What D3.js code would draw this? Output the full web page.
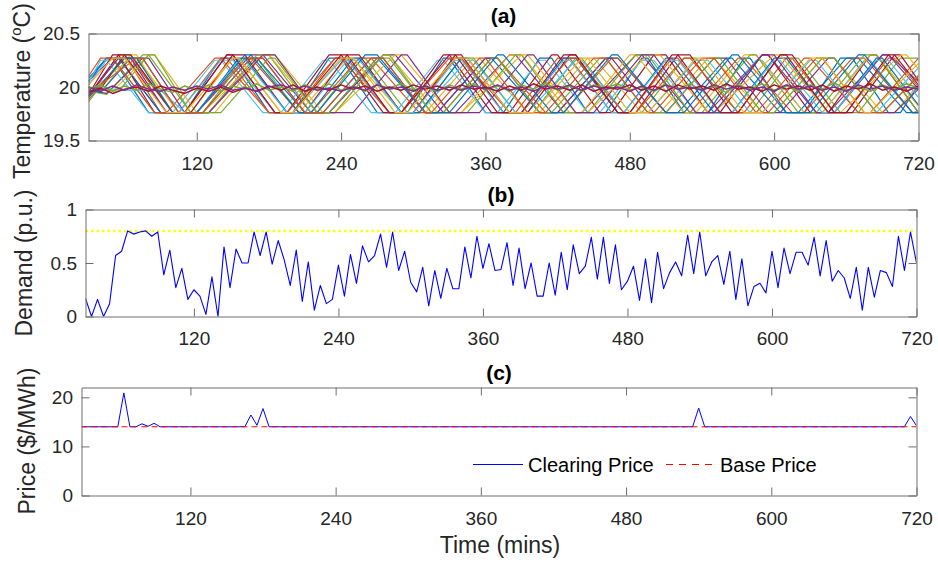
<!DOCTYPE html>
<html>
<head>
<meta charset="utf-8">
<script src="https://cdn.jsdelivr.net/npm/d3@7"></script>
<style>
  html, body { margin: 0; padding: 0; background: #fff; }
  svg { display: block; font-family: "Liberation Sans", Arial, Helvetica, sans-serif; }
</style>
</head>
<body>
<svg id="chart" width="938" height="565"></svg>
<script>
// ---------- data ----------
const timeTicks = [120, 240, 360, 480, 600, 720];
const tempTicks = [19.5, 20, 20.5];
const demandTicks = [0, 0.5, 1];
const priceTicks = [0, 10, 20];

// MATLAB default line colours
const lineColors = ["#0072BD", "#D95319", "#EDB120", "#7E2F8E", "#77AC30", "#4DBEEE", "#A2142F"];

// indoor temperature of each house: thermostat turning points [minute, degC]
const houseTemps = [
  [[30,20.05],[45,20.27],[50,20.27],[80,19.76],[110,19.76],[140,20.27],[150,20.27],[180,19.76],[200,19.76],[230,20.27],[240,20.27],[270,19.76],[295,19.76],[325,20.27],[330,20.27],[360,19.76],[375,19.76],[405,20.27],[415,20.27],[445,19.76],[460,19.76],[490,20.27],[495,20.27],[525,19.76],[545,19.76],[575,20.27],[580,20.27],[610,19.76],[625,19.76],[655,20.27],[665,20.27],[695,19.76],[705,19.76],[720,20.02]],
  [[30,19.90],[55,20.30],[60,20.30],[90,19.76],[105,19.76],[140,20.27],[145,20.27],[180,19.76],[200,19.76],[235,20.27],[245,20.27],[280,19.76],[300,19.76],[335,20.27],[340,20.27],[375,19.76],[385,19.76],[420,20.27],[430,20.27],[465,19.76],[480,19.76],[515,20.27],[520,20.27],[555,19.76],[575,19.76],[610,20.27],[615,20.27],[650,19.76],[660,19.76],[695,20.27],[700,20.27],[720,20.0]],
  [[30,20.0],[40,19.95],[65,20.30],[70,20.30],[100,19.76],[115,19.76],[150,20.27],[155,20.27],[190,19.76],[205,19.76],[245,20.27],[250,20.27],[290,19.76],[310,19.76],[350,20.27],[355,20.27],[395,19.76],[405,19.76],[445,20.27],[450,20.27],[490,19.76],[505,19.76],[545,20.27],[550,20.27],[590,19.76],[600,19.76],[640,20.27],[650,20.27],[690,19.76],[700,19.76],[720,20.02]],
  [[30,20.06],[50,20.27],[55,20.27],[90,19.76],[120,19.76],[165,20.30],[175,20.30],[215,19.76],[230,19.76],[275,20.30],[285,20.30],[325,19.76],[335,19.76],[380,20.30],[385,20.30],[425,19.76],[440,19.76],[485,20.30],[490,20.30],[530,19.76],[545,19.76],[590,20.30],[595,20.30],[635,19.76],[645,19.76],[690,20.30],[695,20.30],[720,19.98]],
  [[30,19.96],[45,19.93],[75,20.30],[80,20.30],[115,19.76],[125,19.76],[160,20.27],[170,20.27],[205,19.76],[220,19.76],[255,20.27],[260,20.27],[295,19.76],[305,19.76],[340,20.27],[350,20.27],[385,19.76],[400,19.76],[435,20.27],[440,20.27],[475,19.76],[490,19.76],[525,20.27],[535,20.27],[570,19.76],[580,19.76],[615,20.27],[620,20.27],[655,19.76],[670,19.76],[705,20.27],[720,20.27]],
  [[30,20.02],[45,20.25],[50,20.27],[85,19.76],[100,19.76],[135,20.25],[140,20.25],[175,19.76],[190,19.76],[225,20.25],[230,20.25],[265,19.76],[285,19.76],[320,20.25],[325,20.25],[360,19.76],[370,19.76],[405,20.25],[410,20.25],[445,19.76],[455,19.76],[490,20.25],[500,20.25],[535,19.76],[550,19.76],[585,20.25],[590,20.25],[625,19.76],[640,19.76],[675,20.25],[680,20.25],[715,19.76],[720,19.78]],
  [[30,19.92],[55,20.30],[60,20.30],[95,19.76],[110,19.76],[145,20.30],[150,20.30],[185,19.76],[195,19.76],[230,20.30],[240,20.30],[275,19.76],[290,19.76],[325,20.30],[330,20.30],[365,19.76],[380,19.76],[415,20.30],[420,20.30],[455,19.76],[465,19.76],[500,20.30],[510,20.30],[545,19.76],[555,19.76],[590,20.30],[595,20.30],[630,19.76],[645,19.76],[680,20.30],[685,20.30],[720,19.76]],
  [[30,20.08],[45,20.27],[55,20.27],[90,19.76],[125,19.76],[165,20.27],[170,20.27],[210,19.76],[225,19.76],[265,20.27],[270,20.27],[310,19.76],[320,19.76],[360,20.27],[365,20.27],[405,19.76],[420,19.76],[460,20.27],[470,20.27],[510,19.76],[520,19.76],[560,20.27],[565,20.27],[605,19.76],[620,19.76],[660,20.27],[670,20.27],[710,19.76],[720,19.76]],
  [[30,19.88],[60,20.27],[65,20.27],[100,19.76],[120,19.76],[160,20.27],[165,20.27],[205,19.76],[215,19.76],[255,20.27],[265,20.27],[305,19.76],[325,19.76],[365,20.27],[370,20.27],[410,19.76],[425,19.76],[465,20.27],[470,20.27],[510,19.76],[530,19.76],[570,20.27],[575,20.27],[615,19.76],[625,19.76],[665,20.27],[675,20.27],[715,19.76],[720,19.76]],
  [[30,20.0],[50,19.96],[80,20.30],[85,20.30],[120,19.76],[135,19.76],[175,20.30],[185,20.30],[225,19.76],[235,19.76],[275,20.30],[280,20.30],[320,19.76],[340,19.76],[380,20.30],[390,20.30],[430,19.76],[440,19.76],[480,20.30],[485,20.30],[525,19.76],[535,19.76],[575,20.30],[585,20.30],[625,19.76],[640,19.76],[680,20.30],[685,20.30],[720,19.82]],
  [[30,19.97],[45,19.94],[75,20.27],[80,20.27],[110,19.76],[130,19.76],[170,20.27],[175,20.27],[210,19.76],[230,19.76],[270,20.27],[275,20.27],[310,19.76],[320,19.76],[360,20.27],[370,20.27],[405,19.76],[420,19.76],[460,20.27],[465,20.27],[500,19.76],[510,19.76],[550,20.27],[560,20.27],[595,19.76],[605,19.76],[645,20.27],[650,20.27],[685,19.76],[700,19.76],[720,19.98]],
  [[30,19.86],[60,20.30],[65,20.30],[100,19.76],[130,19.76],[170,20.30],[180,20.30],[215,19.76],[235,19.76],[275,20.30],[280,20.30],[315,19.76],[345,19.76],[385,20.30],[390,20.30],[425,19.76],[445,19.76],[485,20.30],[495,20.30],[530,19.76],[540,19.76],[580,20.30],[585,20.30],[620,19.76],[635,19.76],[675,20.30],[685,20.30],[720,19.76]],
  [[30,20.04],[40,20.25],[45,20.25],[80,19.76],[105,19.76],[140,20.25],[150,20.25],[185,19.76],[200,19.76],[240,20.25],[245,20.25],[280,19.76],[305,19.76],[345,20.25],[350,20.25],[385,19.76],[395,19.76],[435,20.25],[440,20.25],[475,19.76],[495,19.76],[535,20.25],[545,20.25],[580,19.76],[590,19.76],[630,20.25],[635,20.25],[670,19.76],[685,19.76],[720,20.18]],
  [[30,19.93],[50,20.30],[55,20.30],[85,19.76],[115,19.76],[150,20.30],[160,20.30],[195,19.76],[210,19.76],[245,20.30],[255,20.30],[290,19.76],[300,19.76],[335,20.30],[340,20.30],[375,19.76],[395,19.76],[430,20.30],[435,20.30],[470,19.76],[485,19.76],[520,20.30],[530,20.30],[565,19.76],[570,19.76],[605,20.30],[615,20.30],[650,19.76],[665,19.76],[700,20.30],[705,20.30],[720,20.06]],
  [[30,19.98],[40,19.95],[65,20.27],[75,20.27],[105,19.76],[120,19.76],[155,20.27],[160,20.27],[195,19.76],[215,19.76],[250,20.27],[255,20.27],[290,19.76],[305,19.76],[340,20.27],[345,20.27],[380,19.76],[390,19.76],[425,20.27],[435,20.27],[470,19.76],[475,19.76],[510,20.27],[515,20.27],[550,19.76],[565,19.76],[600,20.27],[610,20.27],[645,19.76],[650,19.76],[685,20.27],[690,20.27],[720,19.83]],
  [[30,20.10],[40,20.27],[50,20.27],[85,19.76],[95,19.76],[135,20.27],[140,20.27],[180,19.76],[195,19.76],[235,20.27],[240,20.27],[280,19.76],[290,19.76],[330,20.27],[340,20.27],[380,19.76],[390,19.76],[430,20.27],[435,20.27],[475,19.76],[485,19.76],[525,20.27],[530,20.27],[570,19.76],[585,19.76],[625,20.27],[630,20.27],[670,19.76],[680,19.76],[720,20.27]],
  [[30,19.95],[65,20.27],[70,20.27],[105,19.76],[125,19.76],[175,20.30],[180,20.30],[220,19.76],[235,19.76],[285,20.30],[290,20.30],[330,19.76],[340,19.76],[390,20.30],[395,20.30],[435,19.76],[445,19.76],[495,20.30],[505,20.30],[545,19.76],[550,19.76],[600,20.30],[605,20.30],[645,19.76],[655,19.76],[705,20.30],[710,20.30],[720,20.17]],
  [[30,19.92],[55,20.27],[65,20.27],[95,19.76],[130,19.76],[175,20.30],[185,20.30],[220,19.76],[250,19.76],[290,20.30],[295,20.30],[330,19.76],[355,19.76],[395,20.30],[400,20.30],[435,19.76],[450,19.76],[490,20.30],[500,20.30],[535,19.76],[550,19.76],[590,20.30],[600,20.30],[635,19.76],[650,19.76],[690,20.30],[695,20.30],[720,20.05]],
  [[30,19.99],[55,19.96],[80,20.30],[85,20.30],[115,19.76],[140,19.76],[180,20.27],[185,20.27],[220,19.76],[230,19.76],[270,20.27],[280,20.27],[315,19.76],[325,19.76],[365,20.27],[370,20.27],[405,19.76],[415,19.76],[455,20.27],[460,20.27],[495,19.76],[510,19.76],[550,20.27],[555,20.27],[590,19.76],[600,19.76],[640,20.27],[650,20.27],[685,19.76],[690,19.76],[720,20.11]],
  [[30,20.0],[60,19.97],[90,19.97],[110,19.76],[120,19.76],[155,20.25],[160,20.25],[195,19.76],[210,19.76],[245,20.25],[255,20.25],[290,19.76],[300,19.76],[335,20.25],[340,20.25],[375,19.76],[390,19.76],[425,20.25],[430,20.25],[465,19.76],[475,19.76],[510,20.25],[520,20.25],[555,19.76],[565,19.76],[600,20.25],[605,20.25],[640,19.76],[650,19.76],[685,20.25],[695,20.25],[720,19.90]],
  [[30,19.96],[40,19.98],[60,20.30],[65,20.30],[100,19.76],[110,19.76],[145,20.30],[150,20.30],[185,19.76],[200,19.76],[240,20.30],[245,20.30],[280,19.76],[290,19.76],[330,20.30],[335,20.30],[370,19.76],[390,19.76],[425,20.30],[435,20.30],[470,19.76],[480,19.76],[515,20.30],[520,20.30],[555,19.76],[570,19.76],[605,20.30],[610,20.30],[645,19.76],[660,19.76],[695,20.30],[700,20.30],[720,20.02]],
  [[30,19.90],[60,20.27],[70,20.27],[100,19.76],[120,19.76],[160,20.30],[165,20.30],[205,19.76],[220,19.76],[260,20.30],[270,20.30],[310,19.76],[330,19.76],[370,20.30],[375,20.30],[415,19.76],[425,19.76],[465,20.30],[470,20.30],[510,19.76],[525,19.76],[565,20.30],[570,20.30],[610,19.76],[630,19.76],[670,20.30],[675,20.30],[715,19.76],[720,19.76]],
  [[30,19.94],[70,20.27],[75,20.27],[105,19.76],[125,19.76],[165,20.27],[175,20.27],[210,19.76],[225,19.76],[265,20.27],[275,20.27],[310,19.76],[315,19.76],[355,20.27],[360,20.27],[395,19.76],[410,19.76],[450,20.27],[460,20.27],[495,19.76],[500,19.76],[540,20.27],[550,20.27],[585,19.76],[595,19.76],[635,20.27],[640,20.27],[675,19.76],[690,19.76],[720,20.10]],
  [[30,20.02],[50,20.27],[60,20.27],[95,19.76],[110,19.76],[150,20.27],[155,20.27],[190,19.76],[200,19.76],[240,20.27],[250,20.27],[285,19.76],[295,19.76],[335,20.27],[345,20.27],[380,19.76],[400,19.76],[440,20.27],[445,20.27],[480,19.76],[495,19.76],[535,20.27],[540,20.27],[575,19.76],[590,19.76],[630,20.27],[640,20.27],[675,19.76],[680,19.76],[720,20.22]]
];

// houses holding close to the 20 degC set-point, sampled every 10 minutes from minute 30
const hoverTemps = [
  [19.98,20.02,19.96,20.01,19.97,20.03,19.98,19.95,20.01,19.97,
   20.02,19.96,20.01,19.98,20.03,19.97,20.00,19.96,20.02,19.98,
   20.03,19.97,20.01,19.96,20.02,19.99,20.03,19.97,20.00,19.96,
   20.02,19.98,20.03,19.97,20.01,19.96,20.02,19.98,20.04,19.97,
   20.01,19.96,20.02,19.99,20.03,19.97,20.00,19.96,20.02,19.98,
   20.03,19.97,20.01,19.95,20.02,19.98,20.03,19.97,20.01,19.96,
   20.02,19.98,20.04,19.97,20.00,19.96,20.02,19.98,20.03,19.99],
  [19.95,19.99,19.94,19.98,20.00,19.96,20.01,19.97,19.94,19.99,
   19.96,20.00,19.95,19.99,19.96,20.01,19.97,20.02,19.96,20.00,
   19.97,20.02,19.98,20.01,19.96,20.00,19.97,20.02,19.98,20.01,
   19.97,20.02,19.98,20.00,19.96,20.01,19.97,20.03,19.98,20.01,
   19.97,20.02,19.96,20.00,19.98,20.02,19.97,20.01,19.96,20.02,
   19.98,20.01,19.97,20.03,19.98,20.00,19.96,20.02,19.98,20.01,
   19.97,20.02,19.96,20.01,19.98,20.03,19.97,20.00,19.96,20.01],
  [20.00,19.96,20.01,19.97,20.02,19.98,19.96,20.00,19.97,20.01,
   19.98,20.02,19.97,19.99,19.96,20.00,20.02,19.98,20.01,19.97,
   19.99,19.96,20.00,19.97,20.02,19.98,20.00,19.96,20.01,19.97,
   20.00,19.97,20.01,19.98,20.02,19.97,20.00,19.96,20.01,19.98,
   20.02,19.97,20.01,19.98,20.00,19.96,20.01,19.97,20.02,19.98,
   20.00,19.97,20.02,19.98,20.01,19.97,20.00,19.96,20.02,19.98,
   20.01,19.97,20.00,19.96,20.02,19.98,20.01,19.97,20.00,19.98]
];
const hoverColors = ["#77AC30", "#A2142F", "#7E2F8E"];

// aggregate demand (p.u.), every 5 minutes from minute 30 to 720
const demand = [
  0.17,0.00,0.16,0.00,0.12,0.57,0.61,0.80,0.77,0.79,
  0.80,0.75,0.79,0.39,0.62,0.27,0.45,0.16,0.25,0.19,
  0.02,0.37,0.00,0.65,0.27,0.63,0.50,0.50,0.79,0.57,
  0.79,0.49,0.71,0.53,0.29,0.62,0.14,0.51,0.06,0.29,
  0.12,0.16,0.48,0.19,0.58,0.31,0.66,0.51,0.57,0.77,
  0.46,0.79,0.43,0.61,0.32,0.23,0.46,0.10,0.43,0.17,
  0.45,0.26,0.26,0.65,0.36,0.75,0.45,0.68,0.43,0.44,
  0.69,0.29,0.64,0.26,0.50,0.19,0.19,0.50,0.20,0.60,
  0.25,0.67,0.40,0.47,0.74,0.35,0.74,0.31,0.67,0.25,
  0.33,0.47,0.15,0.54,0.13,0.60,0.26,0.41,0.51,0.38,
  0.76,0.40,0.79,0.38,0.51,0.57,0.30,0.61,0.16,0.54,
  0.10,0.28,0.31,0.22,0.61,0.27,0.64,0.40,0.60,0.60,
  0.48,0.74,0.38,0.71,0.33,0.43,0.36,0.17,0.46,0.06,
  0.46,0.18,0.43,0.41,0.28,0.75,0.43,0.79,0.50
];
const demandLimit = 0.8;

// market clearing price ($/MWh), every 5 minutes from minute 30 to 720
const clearingPrice = [
  14,14,14,14,14,14,14,20.9,14,14,
  14.6,14.1,14.7,14,14,14,14,14,14,14,
  14,14,14,14,14,14,14,14,16.4,14.3,
  17.7,14,14,14,14,14,14,14,14,14,
  14,14,14,14,14,14,14,14,14,14,
  14,14,14,14,14,14,14,14,14,14,
  14,14,14,14,14,14,14,14,14,14,
  14,14,14,14,14,14,14,14,14,14,
  14,14,14,14,14,14,14,14,14,14,
  14,14,14,14,14,14,14,14,14,14,
  14,14,17.8,14,14,14,14,14,14,14,
  14,14,14,14,14,14,14,14,14,14,
  14,14,14,14,14,14,14,14,14,14,
  14,14,14,14,14,14,14,16.1,14.2
];
const basePrice = 14;

// ---------- drawing ----------
const svg = d3.select("#chart");
svg.append("rect").attr("width", 938).attr("height", 565).attr("fill", "#fff");

const axisColor = "#6e6e6e";
const textColor = "#262626";
const tickFont = 19;
const fiveMin = d3.range(30, 721, 5);
const tenMin = d3.range(30, 721, 10);

function makePanel(cfg) {
  const x = d3.scaleLinear().domain([30, 720]).range([cfg.left, cfg.right]);
  const y = d3.scaleLinear().domain(cfg.yDomain).range([cfg.bottom, cfg.top]);
  const g = svg.append("g");

  const clipId = "clip-" + cfg.id;
  svg.append("clipPath").attr("id", clipId)
    .append("rect")
    .attr("x", cfg.left).attr("y", cfg.top)
    .attr("width", cfg.right - cfg.left).attr("height", cfg.bottom - cfg.top);
  const plot = g.append("g").attr("clip-path", `url(#${clipId})`);

  function styleAxis(sel, showText) {
    sel.attr("font-family", null).attr("font-size", null);
    sel.select(".domain").attr("stroke", axisColor).attr("stroke-width", 1);
    sel.selectAll(".tick line").attr("stroke", axisColor).attr("stroke-width", 1);
    if (showText) {
      sel.selectAll(".tick text").attr("fill", textColor).style("font-size", tickFont + "px");
    } else {
      sel.selectAll(".tick text").remove();
    }
  }

  // bottom axis with labels, inward ticks
  g.append("g").attr("transform", `translate(0,${cfg.bottom})`)
    .call(d3.axisBottom(x).tickValues(timeTicks).tickSize(-8).tickSizeOuter(0).tickPadding(cfg.xPad))
    .call(s => styleAxis(s, true));
  // top mirror axis
  g.append("g").attr("transform", `translate(0,${cfg.top})`)
    .call(d3.axisTop(x).tickValues(timeTicks).tickSize(-8).tickSizeOuter(0))
    .call(s => styleAxis(s, false));
  // left axis
  g.append("g").attr("transform", `translate(${cfg.left},0)`)
    .call(d3.axisLeft(y).tickValues(cfg.yTicks).tickFormat(d3.format("~g")).tickSize(-8).tickSizeOuter(0).tickPadding(8.5))
    .call(s => styleAxis(s, true));
  // right mirror axis
  g.append("g").attr("transform", `translate(${cfg.right},0)`)
    .call(d3.axisRight(y).tickValues(cfg.yTicks).tickSize(-8).tickSizeOuter(0))
    .call(s => styleAxis(s, false));

  // panel title
  g.append("text")
    .attr("x", (cfg.left + cfg.right) / 2).attr("y", cfg.titleY)
    .attr("text-anchor", "middle").attr("font-weight", "bold")
    .attr("font-size", 21).attr("fill", "#000")
    .text(cfg.title);

  return { x, y, g, plot };
}

// (a) house temperatures
const pa = makePanel({ id: "a", left: 88.5, right: 918.5, top: 33.5, bottom: 140.5,
  yDomain: [19.5, 20.5], yTicks: tempTicks, title: "(a)", titleY: 23, xPad: 16 });

const tempLine = d3.line().x(d => pa.x(d[0])).y(d => pa.y(d[1]));
houseTemps.forEach((h, i) => {
  pa.plot.append("path").attr("d", tempLine(h))
    .attr("fill", "none").attr("stroke", lineColors[i % lineColors.length])
    .attr("stroke-width", 1.15).attr("stroke-linejoin", "round");
});
const hoverLine = d3.line().x((d, i) => pa.x(tenMin[i])).y(d => pa.y(d));
hoverTemps.forEach((h, i) => {
  pa.plot.append("path").attr("d", hoverLine(h))
    .attr("fill", "none").attr("stroke", hoverColors[i])
    .attr("stroke-width", 1.5).attr("stroke-linejoin", "round");
});

const ylabA = pa.g.append("text")
  .attr("transform", "translate(30,91) rotate(-90)")
  .attr("text-anchor", "middle").attr("font-size", 23).attr("fill", textColor);
ylabA.append("tspan").text("Temperature (");
ylabA.append("tspan").attr("font-size", 15).attr("dy", -9).text("o");
ylabA.append("tspan").attr("dy", 9).text("C)");

// (b) demand
const pb = makePanel({ id: "b", left: 85.5, right: 916.5, top: 209.5, bottom: 316.5,
  yDomain: [0, 1], yTicks: demandTicks, title: "(b)", titleY: 202, xPad: 15 });

pb.plot.append("line")
  .attr("x1", pb.x(30)).attr("x2", pb.x(720))
  .attr("y1", pb.y(demandLimit)).attr("y2", pb.y(demandLimit))
  .attr("stroke", "#FFFF00").attr("stroke-width", 2.5).attr("stroke-dasharray", "2.5,3");

pb.plot.append("path")
  .attr("d", d3.line().x((d, i) => pb.x(fiveMin[i])).y(d => pb.y(d))(demand))
  .attr("fill", "none").attr("stroke", "#0000FF").attr("stroke-width", 1.1)
  .attr("stroke-linejoin", "round");

pb.g.append("text")
  .attr("transform", "translate(32,263) rotate(-90)")
  .attr("text-anchor", "middle").attr("font-size", 23).attr("fill", textColor)
  .text("Demand (p.u.)");

// (c) price
const pc = makePanel({ id: "c", left: 81.5, right: 916.5, top: 387.5, bottom: 495.5,
  yDomain: [0, 22], yTicks: priceTicks, title: "(c)", titleY: 380, xPad: 16.5 });

pc.plot.append("path")
  .attr("d", d3.line().x((d, i) => pc.x(fiveMin[i])).y(d => pc.y(d))(clearingPrice))
  .attr("fill", "none").attr("stroke", "#0000FF").attr("stroke-width", 1)
  .attr("stroke-linejoin", "round");

pc.plot.append("line")
  .attr("x1", pc.x(30)).attr("x2", pc.x(720))
  .attr("y1", pc.y(basePrice)).attr("y2", pc.y(basePrice))
  .attr("stroke", "#FF0000").attr("stroke-width", 1).attr("stroke-dasharray", "6,4");

pc.g.append("text")
  .attr("transform", "translate(34.5,441) rotate(-90)")
  .attr("text-anchor", "middle").attr("font-size", 23).attr("fill", textColor)
  .text("Price ($/MWh)");

// legend
const legend = pc.g.append("g");
legend.append("line").attr("x1", 473).attr("x2", 523).attr("y1", 464.5).attr("y2", 464.5)
  .attr("stroke", "#0000FF").attr("stroke-width", 1);
legend.append("text").attr("x", 528).attr("y", 471.5).attr("font-size", 20).attr("fill", "#000")
  .text("Clearing Price");
legend.append("line").attr("x1", 666).attr("x2", 712).attr("y1", 464.5).attr("y2", 464.5)
  .attr("stroke", "#FF0000").attr("stroke-width", 1).attr("stroke-dasharray", "7,6");
legend.append("text").attr("x", 720).attr("y", 471.5).attr("font-size", 20).attr("fill", "#000")
  .text("Base Price");

// shared x label
svg.append("text")
  .attr("x", 500).attr("y", 553)
  .attr("text-anchor", "middle").attr("font-size", 23).attr("fill", textColor)
  .text("Time (mins)");
</script>
</body>
</html>
